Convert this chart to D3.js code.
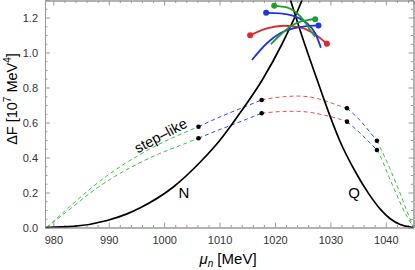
<!DOCTYPE html>
<html>
<head>
<meta charset="utf-8">
<title></title>
<style>
  body { margin: 0; background: #fff; }
  text { font-family: "Liberation Sans", Arial, sans-serif; }
</style>
</head>
<body>
<script src="https://cdn.jsdelivr.net/npm/d3@7"></script>
<script>
  // tick values
  var xTicks = [980, 990, 1000, 1010, 1020, 1030, 1040];
  var yTicks = [0, 0.2, 0.4, 0.6, 0.8, 1.0, 1.2];

  // black curves [mu, dF]
  var curveN = [[978.6, 0], [983.6, 0.006], [989.7, 0.040], [993.3, 0.078], [995.7, 0.113],
                [1001.6, 0.230], [1006.7, 0.380], [1010.1, 0.500], [1013.7, 0.655],
                [1017.7, 0.843], [1021.3, 1.05], [1024.9, 1.3], [1025.4, 1.34]];
  var curveQ = [[1022.4, 1.34], [1022.8, 1.3], [1024.5, 1.13], [1026.35, 0.957], [1028.65, 0.75],
                [1029.84, 0.645], [1031.77, 0.49], [1034.48, 0.32], [1036.88, 0.195],
                [1039.0, 0.105], [1040.8, 0.05], [1042.6, 0.017], [1044.8, 0.001], [1045, 0]];

  // dashed "step-like" pieces
  var upperGreenL = [[978.8, 0], [983, 0.12], [987, 0.23], [991, 0.325], [995, 0.405], [999, 0.475], [1003, 0.533], [1006.2, 0.576]];
  var lowerGreenL = [[978.8, 0], [983, 0.105], [987, 0.205], [991, 0.29], [995, 0.36], [999, 0.42], [1003, 0.47], [1006.2, 0.51]];
  var upperBlueL = [[1006.2, 0.576], [1009, 0.617], [1011.9, 0.656], [1014.8, 0.693], [1017.6, 0.729]];
  var lowerBlueL = [[1006.2, 0.51], [1009, 0.547], [1011.9, 0.582], [1014.8, 0.618], [1017.6, 0.653]];
  var upperRed = [[1017.6, 0.729], [1019.1, 0.738], [1021.5, 0.747], [1024, 0.751], [1026.5, 0.745], [1028.75, 0.727], [1031.2, 0.70], [1033, 0.681]];
  var lowerRed = [[1017.6, 0.653], [1019.1, 0.658], [1021.5, 0.663], [1024, 0.664], [1026.5, 0.657], [1028.75, 0.643], [1031.2, 0.624], [1033, 0.605]];
  var upperBlueR = [[1033, 0.681], [1034.3, 0.645], [1035.7, 0.60], [1037, 0.55], [1038.4, 0.496]];
  var lowerBlueR = [[1033, 0.605], [1034.3, 0.57], [1035.7, 0.529], [1037, 0.488], [1038.4, 0.443]];
  var upperGreenR = [[1038.4, 0.496], [1039.7, 0.41], [1041.1, 0.31], [1042.4, 0.21], [1043.5, 0.12], [1045, 0]];
  var lowerGreenR = [[1038.4, 0.443], [1039.4, 0.38], [1040.3, 0.31], [1041.6, 0.215], [1042.9, 0.12], [1045, 0]];
  var junctions = [[1006.2, 0.576], [1006.2, 0.51], [1017.6, 0.729], [1017.6, 0.653],
                   [1033, 0.681], [1033, 0.605], [1038.4, 0.496], [1038.4, 0.443]];

  // solid arcs near the crossing
  var redArc = [[1015.52, 1.098], [1018.54, 1.138], [1021.53, 1.153], [1024.55, 1.144], [1026.95, 1.110], [1029.37, 1.050]];
  var blueArcA = [[1018.41, 1.227], [1020.94, 1.224], [1023.34, 1.209], [1025.76, 1.167], [1027.26, 1.110], [1028.29, 1.027]];
  var blueArcB = [[1015.83, 0.957], [1018.54, 1.053], [1020.94, 1.110], [1023.34, 1.138], [1025.76, 1.151], [1027.85, 1.155]];
  var greenArcA = [[1019.86, 1.267], [1022.15, 1.258], [1023.65, 1.233], [1025.14, 1.186], [1026.35, 1.129], [1027.26, 1.090]];
  var greenArcB = [[1019.26, 1.047], [1020.94, 1.1], [1022.74, 1.147], [1024.55, 1.176], [1026.05, 1.186], [1027.26, 1.190]];

  var red = '#e3262b', blue = '#1f35e0', green = '#1e9e2a';
  var dRed = '#f0484c', dBlue = '#3447ee', dGreen = '#3cbf3c';

  var W = 415, H = 270;
  var mLeft = 45, mRight = 413.5, mTop = 0.5, mBottom = 227.5;

  var x = d3.scaleLinear().domain([978.5, 1045]).range([mLeft, mRight]);
  var y = d3.scaleLinear().domain([0, 1.3]).range([mBottom, 0]);

  var svg = d3.select('body').append('svg')
      .attr('width', W).attr('height', H);

  svg.append('clipPath').attr('id', 'clip')
    .append('rect')
      .attr('x', mLeft).attr('y', mTop)
      .attr('width', mRight - mLeft).attr('height', mBottom - mTop);

  // axes - mathematica style frame
  var axisCol = '#999';
  function frameAxis(axis, tr) {
    var g = svg.append('g').attr('transform', tr).call(axis);
    g.select('.domain').attr('stroke', axisCol);
    g.selectAll('.tick line').attr('stroke', axisCol);
    g.selectAll('.tick text').attr('fill', '#333').style('font-size', '11px')
      .style('font-family', '"Liberation Sans", Arial, sans-serif');
    return g;
  }
  var xMinor = d3.range(980, 1045, 2).filter(function(d) { return d % 10 !== 0; });
  var yMinor = d3.range(0.05, 1.3, 0.05).filter(function(d) { return Math.abs(d * 5 - Math.round(d * 5)) > 1e-6; });

  frameAxis(d3.axisBottom(x).tickValues(xMinor).tickSize(-2.5).tickFormat(''), 'translate(0,' + mBottom + ')');
  frameAxis(d3.axisBottom(x).tickValues(xTicks).tickSize(-5).tickPadding(9).tickFormat(d3.format('d')), 'translate(0,' + mBottom + ')');
  frameAxis(d3.axisTop(x).tickValues(xMinor).tickSize(-2.5).tickFormat(''), 'translate(0,' + mTop + ')');
  frameAxis(d3.axisTop(x).tickValues(xTicks).tickSize(-5).tickFormat(''), 'translate(0,' + mTop + ')');
  frameAxis(d3.axisLeft(y).tickValues(yMinor).tickSize(-2.5).tickFormat(''), 'translate(' + mLeft + ',0)');
  frameAxis(d3.axisLeft(y).tickValues(yTicks).tickSize(-5).tickPadding(7).tickFormat(d3.format('.1f')), 'translate(' + mLeft + ',0)');
  frameAxis(d3.axisRight(y).tickValues(yMinor).tickSize(-2.5).tickFormat(''), 'translate(' + mRight + ',0)');
  frameAxis(d3.axisRight(y).tickValues(yTicks).tickSize(-5).tickFormat(''), 'translate(' + mRight + ',0)');

  var plot = svg.append('g').attr('clip-path', 'url(#clip)');

  var line = d3.line()
      .x(function(d) { return x(d[0]); })
      .y(function(d) { return y(d[1]); })
      .curve(d3.curveMonotoneX);

  function dashed(data, col) {
    plot.append('path').datum(data)
      .attr('d', line)
      .attr('fill', 'none')
      .attr('stroke', col)
      .attr('stroke-width', 1)
      .attr('stroke-dasharray', '4,3');
  }
  dashed(upperGreenL, dGreen); dashed(lowerGreenL, dGreen);
  dashed(upperBlueL, dBlue); dashed(lowerBlueL, dBlue);
  dashed(upperRed, dRed); dashed(lowerRed, dRed);
  dashed(upperBlueR, dBlue); dashed(lowerBlueR, dBlue);
  dashed(upperGreenR, dGreen); dashed(lowerGreenR, dGreen);

  plot.selectAll('.jdot').data(junctions).enter().append('circle')
      .attr('class', 'jdot')
      .attr('cx', function(d) { return x(d[0]); })
      .attr('cy', function(d) { return y(d[1]); })
      .attr('r', 2.3)
      .attr('fill', '#000');

  [curveN, curveQ].forEach(function(c) {
    plot.append('path').datum(c)
      .attr('d', line)
      .attr('fill', 'none')
      .attr('stroke', '#000')
      .attr('stroke-width', 1.7);
  });

  var arcs = [
    {data: redArc, col: red, dots: [0, redArc.length - 1]},
    {data: blueArcA, col: blue, dots: [0]},
    {data: blueArcB, col: blue, dots: [blueArcB.length - 1]},
    {data: greenArcA, col: green, dots: [0]},
    {data: greenArcB, col: green, dots: [greenArcB.length - 1]}
  ];
  arcs.forEach(function(a) {
    plot.append('path').datum(a.data)
      .attr('d', line)
      .attr('fill', 'none')
      .attr('stroke', a.col)
      .attr('stroke-width', 1.8);
    a.dots.forEach(function(i) {
      plot.append('circle')
        .attr('cx', x(a.data[i][0]))
        .attr('cy', y(a.data[i][1]))
        .attr('r', 3)
        .attr('fill', a.col);
    });
  });

  // labels
  svg.append('text').attr('x', 184).attr('y', 198)
    .attr('text-anchor', 'middle').style('font-size', '15px').text('N');
  svg.append('text').attr('x', 354).attr('y', 198)
    .attr('text-anchor', 'middle').style('font-size', '15px').text('Q');
  svg.append('text')
    .attr('transform', 'translate(163,140) rotate(-28)')
    .attr('text-anchor', 'middle').style('font-size', '14.5px').text('step\u2013like');

  var yl = svg.append('text')
    .attr('transform', 'translate(17,99) rotate(-90)')
    .attr('text-anchor', 'middle').style('font-size', '14.5px');
  yl.append('tspan').text('\u0394F [10');
  yl.append('tspan').attr('dy', -6).style('font-size', '10px').text('7');
  yl.append('tspan').attr('dy', 6).text(' MeV');
  yl.append('tspan').attr('dy', -6).style('font-size', '10px').text('4');
  yl.append('tspan').attr('dy', 6).text(']');

  var xl = svg.append('text')
    .attr('x', 228).attr('y', 263.5)
    .attr('text-anchor', 'middle').style('font-size', '15px');
  xl.append('tspan').style('font-style', 'italic').text('\u03bc');
  xl.append('tspan').attr('dy', 3).style('font-size', '10px').style('font-style', 'italic').text('n');
  xl.append('tspan').attr('dy', -3).text(' [MeV]');
</script>
</body>
</html>
